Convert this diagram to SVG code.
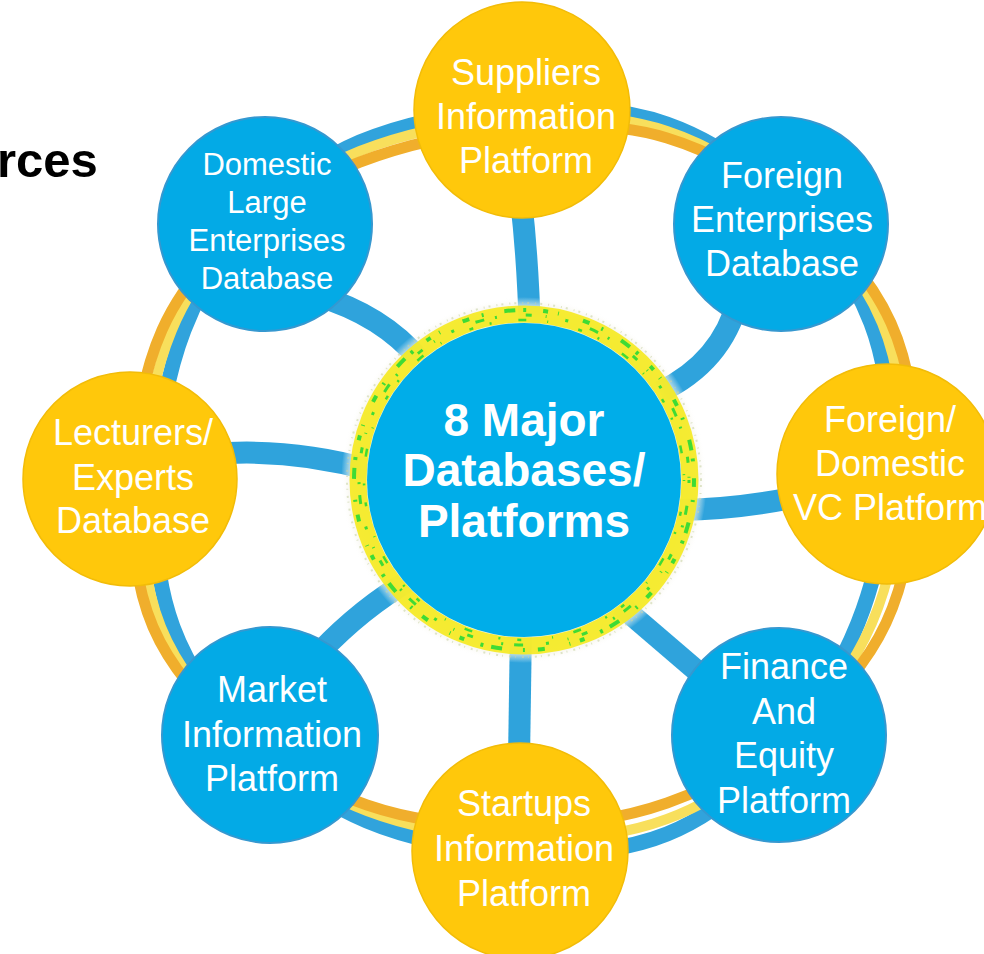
<svg xmlns="http://www.w3.org/2000/svg" width="984" height="954" viewBox="0 0 984 954">
<defs>
<style>
.ring{fill:none}
.rb{stroke:#31A3DC;stroke-width:15}
.ry{stroke:#F8DF5C;stroke-width:10}
.ro{stroke:#F0AE2C;stroke-width:11}
.spoke{fill:none;stroke:#2FA3DC;stroke-width:22}
.nb{fill:#03AAE6;stroke:#3598D0;stroke-width:2}
.ny{fill:#FFC80B;stroke:#F2BC08;stroke-width:1.5}
.t{font-family:"Liberation Sans",Arial,sans-serif;fill:#fff;text-anchor:middle;font-size:36px}
.ts{font-size:31px}
.tc{font-weight:bold;font-size:46px}
.sp{fill:none;stroke:#3FDB35}
</style>
<radialGradient id="halo" cx="0.5" cy="0.5" r="0.5">
<stop offset="0.85" stop-color="#F2F5D2" stop-opacity="0.9"/>
<stop offset="0.95" stop-color="#F4F2E6" stop-opacity="0.7"/>
<stop offset="1" stop-color="#FFFFFF" stop-opacity="0"/>
</radialGradient>
</defs>
<rect width="984" height="954" fill="#FFFFFF"/>
<text x="-3" y="177" font-family="'Liberation Sans',Arial,sans-serif" font-weight="bold" font-size="49" fill="#000">rces</text>
<g id="ring">
<path class="ring rb" d="M360,142 C440.5,107.7 581.8,93.8 667,124 C752.2,154.2 839.2,239.8 871,323 C902.8,406.2 892,537.8 858,623 C824,708.2 748.8,801 667,834 C585.2,867 449.3,855.5 367,821 C284.7,786.5 203.5,708.8 173,627 C142.5,545.2 152.8,410.8 184,330 C215.2,249.2 279.5,176.3 360,142 Z"/>
<path class="ring ry" d="M360,151 C442.5,117.8 580,102.3 667,131 C754,159.7 847.8,241 882,323 C916.2,405 907.8,540.3 872,623 C836.2,705.7 751.2,787.7 667,819 C582.8,850.3 451.3,843 367,811 C282.7,779 193.5,707.2 161,627 C128.5,546.8 138.8,409.3 172,330 C205.2,250.7 277.5,184.2 360,151 Z"/>
<path class="ring ro" d="M360,162 C444.2,130 578.5,111.2 667,138 C755.5,164.8 854.5,242.2 891,323 C927.5,403.8 923.3,543 886,623 C848.7,703 753.5,772.7 667,803 C580.5,833.3 452.7,834.3 367,805 C281.3,775.7 187.2,706.2 153,627 C118.8,547.8 127.5,407.5 162,330 C196.5,252.5 275.8,194 360,162 Z"/>
</g>
<g id="connectors">
<path class="spoke" d="M530,335 Q528,260 521,200"/>
<path class="spoke" d="M660,392 Q722,362 738,300"/>
<path class="spoke" d="M680,510 Q735,509 792,498"/>
<path class="spoke" d="M620,605 L725,695"/>
<path class="spoke" d="M521,625 L519,760"/>
<path class="spoke" d="M410,580 Q362,608 320,652"/>
<path class="spoke" d="M370,470 Q300,450 228,453"/>
<path class="spoke" d="M318,296 Q382,315 420,360"/>
</g>
<g id="center">
<circle cx="524" cy="480" r="183" fill="url(#halo)"/>
<circle cx="524" cy="480" r="166" fill="none" stroke="#F5EA1E" stroke-width="17" opacity="0.9"/>
<circle class="sp" cx="524" cy="480" r="170" stroke-width="4" stroke-dasharray="7 13 2 21 11 8 3 17 5 10 1 25"/>
<circle class="sp" cx="524" cy="480" r="165" stroke-width="3" stroke-dasharray="3 23 9 11 2 29 6 14 1 19"/>
<circle class="sp" cx="524" cy="480" r="160" stroke-width="2.5" stroke-dasharray="1 31 4 17 2 27 8 21"/>
<circle cx="524" cy="480" r="177" fill="none" stroke="#C9D4A6" stroke-width="2" stroke-dasharray="1 4 2 6" opacity="0.6"/>
<circle cx="524" cy="480" r="157" fill="#00ADE9"/>
<text class="t tc" x="524" y="436">8 Major</text>
<text class="t tc" x="524" y="486">Databases/</text>
<text class="t tc" x="524" y="537">Platforms</text>
</g>
<g id="suppliers">
<circle class="ny" cx="522" cy="110" r="108"/>
<text class="t" x="526" y="85">Suppliers</text>
<text class="t" x="526" y="129">Information</text>
<text class="t" x="526" y="173">Platform</text>
</g>
<g id="foreign-enterprises">
<circle class="nb" cx="781" cy="224" r="107"/>
<text class="t" x="782" y="188">Foreign</text>
<text class="t" x="782" y="232">Enterprises</text>
<text class="t" x="782" y="276">Database</text>
</g>
<g id="vc-platform">
<circle class="ny" cx="887" cy="474" r="110"/>
<text class="t" x="890" y="432">Foreign/</text>
<text class="t" x="890" y="476">Domestic</text>
<text class="t" x="890" y="520">VC Platform</text>
</g>
<g id="finance-equity">
<circle class="nb" cx="779" cy="735" r="107"/>
<text class="t" x="784" y="679">Finance</text>
<text class="t" x="784" y="724">And</text>
<text class="t" x="784" y="768">Equity</text>
<text class="t" x="784" y="813">Platform</text>
</g>
<g id="startups">
<circle class="ny" cx="520" cy="851" r="108"/>
<text class="t" x="524" y="816">Startups</text>
<text class="t" x="524" y="861">Information</text>
<text class="t" x="524" y="906">Platform</text>
</g>
<g id="market">
<circle class="nb" cx="270" cy="735" r="108"/>
<text class="t" x="272" y="702">Market</text>
<text class="t" x="272" y="747">Information</text>
<text class="t" x="272" y="791">Platform</text>
</g>
<g id="lecturers">
<circle class="ny" cx="130" cy="479" r="107"/>
<text class="t" x="133" y="445">Lecturers/</text>
<text class="t" x="133" y="490">Experts</text>
<text class="t" x="133" y="533">Database</text>
</g>
<g id="domestic-large">
<circle class="nb" cx="265" cy="224" r="107"/>
<text class="t ts" x="267" y="175">Domestic</text>
<text class="t ts" x="267" y="213">Large</text>
<text class="t ts" x="267" y="251">Enterprises</text>
<text class="t ts" x="267" y="289">Database</text>
</g>
</svg>
